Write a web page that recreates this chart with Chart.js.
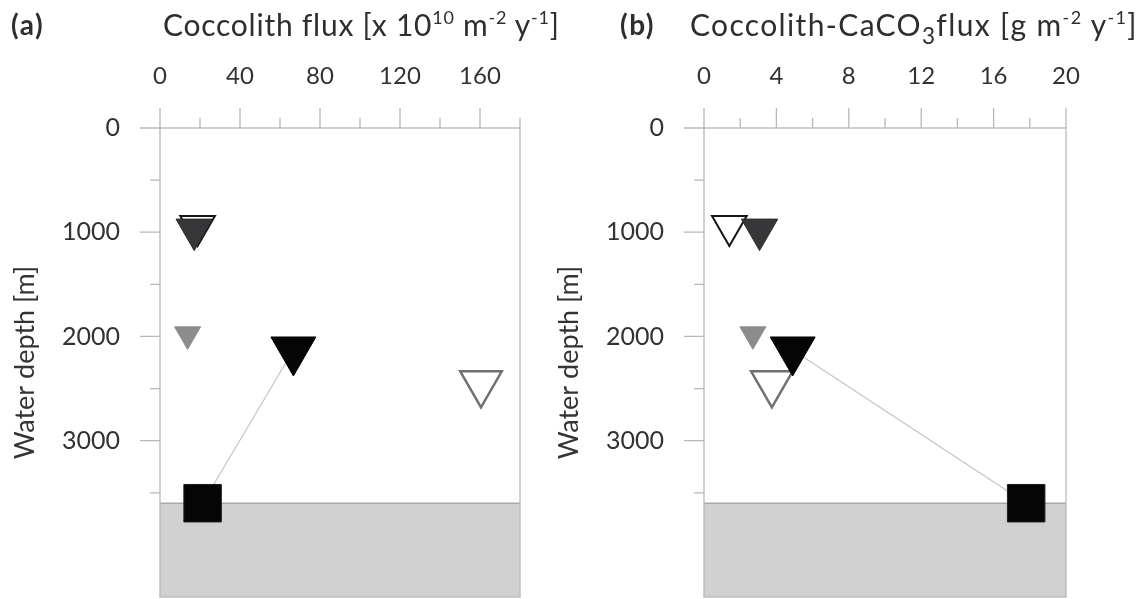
<!DOCTYPE html>
<html>
<head>
<meta charset="utf-8">
<script src="https://cdn.jsdelivr.net/npm/chart.js@4.4.0/dist/chart.umd.min.js"></script>
<style>
  html, body { margin: 0; padding: 0; background: #fff; }
  #page { position: relative; width: 1147px; height: 599px; overflow: hidden;
          font-family: Lato, "Noto Sans", sans-serif; color: #2e2e2e; }
  .panel { position: absolute; top: 0; height: 599px; }
  #panelA { left: 0; width: 544px; }
  #panelB { left: 544px; width: 603px; }
  .tag { position: absolute; top: 5px; font-size: 28px; font-weight: bold; line-height: 38px; letter-spacing: 1.5px; }
  .title { position: absolute; top: 4px; font-size: 30px; line-height: 40px; white-space: nowrap; }
  .title sup { font-size: 0.6em; vertical-align: 0.65em; line-height: 0; }
  .title sub { font-size: 0.75em; vertical-align: -0.35em; line-height: 0; }
</style>
</head>
<body>
<div id="page">
  <div class="panel" id="panelA"><canvas id="chartA"></canvas></div>
  <div class="panel" id="panelB"><canvas id="chartB"></canvas></div>
  <div class="tag" style="left:11px">(a)</div>
  <div class="title" style="left:163px; letter-spacing:0.75px">Coccolith flux [x 10<sup>10</sup> m<sup>-2</sup> y<sup>-1</sup>]</div>
  <div class="tag" style="left:620px">(b)</div>
  <div class="title" style="left:690px; letter-spacing:1.35px">Coccolith-CaCO<sub>3</sub>flux [g m<sup>-2</sup> y<sup>-1</sup>]</div>
</div>

<script>
// ---- axes ----
const depthMax = 4500;
const depthTicksMajor = [0, 1000, 2000, 3000];
const depthTicksMinor = [500, 1500, 2500, 3500];
const seafloorDepth = 3600;

const fluxMax = 180;
const fluxTicksMajor = [0, 40, 80, 120, 160];
const fluxTicksMinor = [20, 60, 100, 140, 180];

const caco3Max = 20;
const caco3TicksMajor = [0, 4, 8, 12, 16, 20];
const caco3TicksMinor = [2, 6, 10, 14, 18];

// ---- data (one entry per marker, listed bottom-to-top in drawing order) ----
const markerDepths  = [2450, 1980, 2130, 940, 975, 3600];     // m
const coccolithFlux = [160.5, 13.8, 66.7, 18.8, 17.1, 21.3];  // x 10^10 m-2 y-1
const caco3Flux     = [3.75, 2.7, 4.9, 1.4, 3.07, 17.8];      // g m-2 y-1

// the thin line joins the deepest trap with the sediment value
const linkFrom = 2;
const linkTo = 5;

// ---- styles ----
const markerStyles = [
  { shape: 'triangle', radius: 24, fill: '#ffffff', stroke: '#707070', width: 2.5 },
  { shape: 'triangle', radius: 15, fill: '#8c8c8e', stroke: '#8c8c8e', width: 1 },
  { shape: 'triangle', radius: 26, fill: '#050505', stroke: '#050505', width: 1 },
  { shape: 'triangle', radius: 20, fill: '#ffffff', stroke: '#151515', width: 2 },
  { shape: 'triangle', radius: 21, fill: '#37373a', stroke: '#2a2a2a', width: 1 },
  { shape: 'rect',     radius: 26.5, fill: '#050505', stroke: '#1e1e1e', width: 1 }
];
const axisGrey = '#b8b8b8';
const textGrey = '#333333';

function sedimentPattern() {
  const c = document.createElement('canvas');
  c.width = 4; c.height = 4;
  const g = c.getContext('2d');
  g.fillStyle = '#d2d2d2';
  g.fillRect(0, 0, 4, 4);
  g.fillStyle = '#c6c6c6';
  g.fillRect(0, 0, 1, 1);
  g.fillRect(2, 2, 1, 1);
  return g.createPattern(c, 'repeat');
}

// frame + major/minor tick marks outside the plot box
const frameTicks = {
  id: 'frameTicks',
  afterDatasetsDraw(chart, args, opts) {
    const { ctx, chartArea: a, scales: { x, y } } = chart;
    ctx.save();
    ctx.strokeStyle = axisGrey;
    ctx.lineWidth = 1.3;
    ctx.strokeRect(a.left, a.top, a.right - a.left, a.bottom - a.top);
    ctx.beginPath();
    opts.xMajor.forEach(v => { const p = x.getPixelForValue(v); ctx.moveTo(p, a.top); ctx.lineTo(p, a.top - 20); });
    opts.xMinor.forEach(v => { const p = x.getPixelForValue(v); ctx.moveTo(p, a.top); ctx.lineTo(p, a.top - 10); });
    depthTicksMajor.forEach(v => { const p = y.getPixelForValue(v); ctx.moveTo(a.left, p); ctx.lineTo(a.left - 20, p); });
    depthTicksMinor.forEach(v => { const p = y.getPixelForValue(v); ctx.moveTo(a.left, p); ctx.lineTo(a.left - 10, p); });
    ctx.stroke();
    ctx.restore();
  }
};

function makePanel(id, values, xMax, xMajor, xMinor, rightPad) {
  const sets = [];
  sets.push({
    label: 'sediment',
    data: [{ x: 0, y: seafloorDepth }, { x: xMax, y: seafloorDepth }],
    showLine: true, fill: 'start', pointRadius: 0,
    backgroundColor: sedimentPattern(), borderColor: '#a9a9a9', borderWidth: 1.5
  });
  sets.push({
    label: 'link',
    data: [{ x: values[linkFrom], y: markerDepths[linkFrom] }, { x: values[linkTo], y: markerDepths[linkTo] }],
    showLine: true, pointRadius: 0, borderColor: '#c4c4c4', borderWidth: 1.2
  });
  markerStyles.forEach((s, i) => {
    sets.push({
      label: 'm' + i,
      data: [{ x: values[i], y: markerDepths[i] }],
      showLine: false,
      pointStyle: s.shape,
      rotation: s.shape === 'triangle' ? 180 : 0,
      pointRadius: s.radius,
      pointHoverRadius: s.radius,
      pointBackgroundColor: s.fill,
      pointBorderColor: s.stroke,
      pointBorderWidth: s.width
    });
  });
  // first in the list is drawn at the bottom
  sets.forEach((d, i) => { d.order = sets.length - i; });

  return new Chart(document.getElementById(id), {
    type: 'scatter',
    data: { datasets: sets },
    options: {
      responsive: true,
      maintainAspectRatio: false,
      animation: false,
      events: [],
      layout: { autoPadding: false, padding: { top: 0, right: rightPad, bottom: 2, left: 0 } },
      plugins: {
        legend: { display: false },
        tooltip: { enabled: false },
        frameTicks: { xMajor, xMinor }
      },
      scales: {
        x: {
          type: 'linear', position: 'top', min: 0, max: xMax,
          afterBuildTicks: s => { s.ticks = xMajor.map(v => ({ value: v })); },
          afterFit: s => { s.height = 128; s.paddingLeft = 0; s.paddingRight = 0; },
          grid: { display: false, drawTicks: false },
          border: { display: false },
          ticks: { color: textGrey, padding: 37, maxRotation: 0, autoSkip: false,
                   callback: v => String(v),
                   font: { family: 'Lato', size: 24 } }
        },
        y: {
          type: 'linear', reverse: true, min: 0, max: depthMax,
          afterBuildTicks: s => { s.ticks = depthTicksMajor.map(v => ({ value: v })); },
          afterFit: s => { s.width = 160; s.paddingTop = 0; s.paddingBottom = 0; },
          grid: { display: false, drawTicks: false },
          border: { display: false },
          ticks: { color: textGrey, padding: 40, autoSkip: false,
                   callback: v => String(v),
                   font: { family: 'Lato', size: 25 } },
          title: { display: true, text: 'Water depth [m]', color: textGrey,
                   padding: { top: 9, bottom: 0 }, font: { family: 'Lato', size: 27 } }
        }
      }
    },
    plugins: [frameTicks]
  });
}

makePanel('chartA', coccolithFlux, fluxMax, fluxTicksMajor, fluxTicksMinor, 24);
makePanel('chartB', caco3Flux, caco3Max, caco3TicksMajor, caco3TicksMinor, 81);
</script>
</body>
</html>
